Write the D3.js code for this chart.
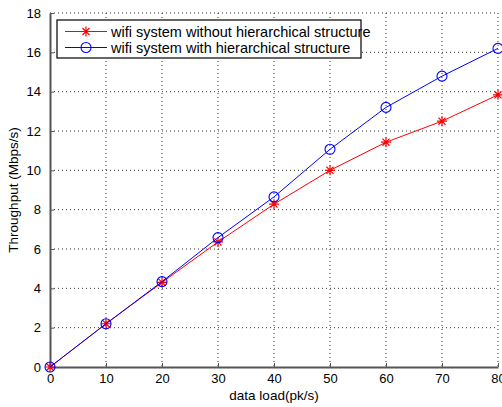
<!DOCTYPE html>
<html>
<head>
  <meta charset="UTF-8">
  <title>Throughput vs data load</title>
  <script src="https://d3js.org/d3.v7.min.js"></script>
  <style>
    body { margin: 0; background: #fff; font-family: Arial, "Liberation Sans", sans-serif; }
    .grid line { stroke: #333; stroke-width: 1; stroke-dasharray: 1,3; }
    .axis path, .axis line { stroke: #555; }
    .axis text { font-size: 13px; fill: #000; }
  </style>
</head>
<body>
  <div id="chart"></div>
  <script>
    const loads = [0, 10, 20, 30, 40, 50, 60, 70, 80];
    const withoutHier = [0, 2.2, 4.3, 6.36, 8.28, 10.0, 11.43, 12.5, 13.84];
    const withHier = [0, 2.2, 4.34, 6.58, 8.65, 11.07, 13.2, 14.79, 16.2];
    const xTicks = [0, 10, 20, 30, 40, 50, 60, 70, 80];
    const yTicks = [0, 2, 4, 6, 8, 10, 12, 14, 16, 18];

    const W = 502, H = 407;
    const margin = { top: 13, right: 4, bottom: 40, left: 50 };
    const width = W - margin.left - margin.right;
    const height = H - margin.top - margin.bottom;

    const svg = d3.select("#chart").append("svg")
      .attr("width", W)
      .attr("height", H);

    const g = svg.append("g")
      .attr("transform", `translate(${margin.left},${margin.top})`);

    const x = d3.scaleLinear().domain([0, 80]).range([0, width]);
    const y = d3.scaleLinear().domain([0, 18]).range([height, 0]);

    // dotted grid
    g.append("g").attr("class", "grid")
      .selectAll("line").data(xTicks.slice(1)).enter().append("line")
      .attr("x1", d => x(d)).attr("x2", d => x(d))
      .attr("y1", 0).attr("y2", height);
    g.append("g").attr("class", "grid")
      .selectAll("line").data(yTicks.slice(1)).enter().append("line")
      .attr("x1", 0).attr("x2", width)
      .attr("y1", d => y(d)).attr("y2", d => y(d));

    // axes, inward ticks like MATLAB
    g.append("g").attr("class", "axis")
      .attr("transform", `translate(0,${height})`)
      .call(d3.axisBottom(x).tickValues(xTicks).tickSize(-4).tickPadding(7).tickSizeOuter(0))
      .call(a => a.select(".domain").attr("stroke-width", 2));
    g.append("g").attr("class", "axis")
      .call(d3.axisLeft(y).tickValues(yTicks).tickSize(-4).tickPadding(9).tickSizeOuter(0))
      .call(a => a.select(".domain").attr("stroke-width", 2));

    // axis labels
    svg.append("text")
      .attr("x", margin.left + width / 2)
      .attr("y", 400)
      .attr("text-anchor", "middle")
      .attr("font-size", 13.5)
      .text("data load(pk/s)");
    svg.append("text")
      .attr("transform", `translate(18,${margin.top + height / 2}) rotate(-90)`)
      .attr("text-anchor", "middle")
      .attr("font-size", 13.5)
      .text("Throughput (Mbps/s)");

    const line = d3.line().x((d, i) => x(loads[i])).y(d => y(d));

    const starPath = (cx, cy, r) => {
      let p = "";
      for (let k = 0; k < 4; k++) {
        const a = k * Math.PI / 4;
        const dx = r * Math.cos(a), dy = r * Math.sin(a);
        p += `M${cx - dx},${cy - dy}L${cx + dx},${cy + dy}`;
      }
      return p;
    };

    // red series (stars)
    g.append("path").datum(withoutHier)
      .attr("d", line).attr("fill", "none").attr("stroke", "#ff0000").attr("stroke-width", 1);
    g.selectAll(".star").data(withoutHier).enter().append("path")
      .attr("class", "star")
      .attr("d", (d, i) => starPath(x(loads[i]), y(d), 5))
      .attr("stroke", "#ff0000").attr("stroke-width", 1.2).attr("fill", "none");

    // blue series (circles)
    g.append("path").datum(withHier)
      .attr("d", line).attr("fill", "none").attr("stroke", "#0000ff").attr("stroke-width", 1);
    g.selectAll(".circ").data(withHier).enter().append("circle")
      .attr("class", "circ")
      .attr("cx", (d, i) => x(loads[i])).attr("cy", d => y(d)).attr("r", 5)
      .attr("stroke", "#0000ff").attr("stroke-width", 1.1).attr("fill", "none");

    // legend
    const legend = svg.append("g").attr("transform", "translate(57,20)");
    legend.append("rect")
      .attr("width", 304).attr("height", 38)
      .attr("fill", "#fff").attr("stroke", "#000").attr("stroke-width", 1.2);
    const items = [
      { label: "wifi system without hierarchical structure", color: "#ff0000", mark: "star" },
      { label: "wifi system with hierarchical structure", color: "#0000ff", mark: "circle" }
    ];
    items.forEach((it, i) => {
      const cy = 11.5 + i * 16;
      legend.append("line")
        .attr("x1", 8).attr("x2", 50).attr("y1", cy).attr("y2", cy)
        .attr("stroke", it.color).attr("stroke-width", 1);
      if (it.mark === "star") {
        legend.append("path").attr("d", starPath(29, cy, 5))
          .attr("stroke", it.color).attr("stroke-width", 1.2).attr("fill", "none");
      } else {
        legend.append("circle").attr("cx", 29).attr("cy", cy).attr("r", 5)
          .attr("stroke", it.color).attr("stroke-width", 1.1).attr("fill", "none");
      }
      legend.append("text")
        .attr("x", 54).attr("y", cy + 5)
        .attr("font-size", 14.5)
        .text(it.label);
    });
  </script>
</body>
</html>
